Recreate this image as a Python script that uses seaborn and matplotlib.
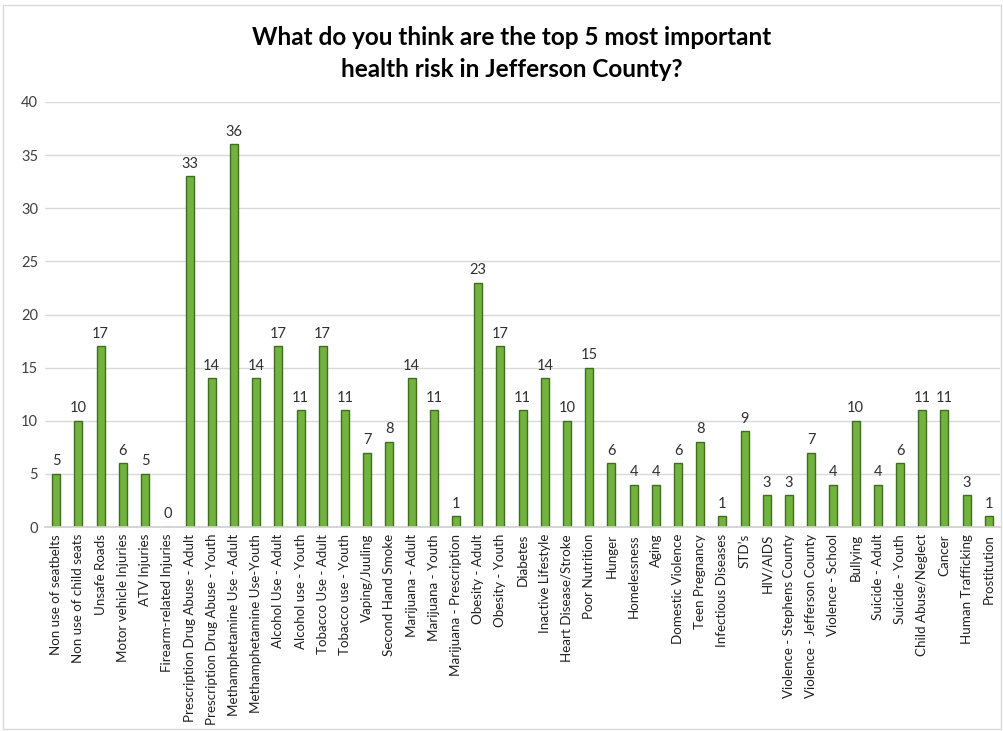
import matplotlib
matplotlib.use("Agg")
import matplotlib.pyplot as plt
import seaborn as sns
import pandas as pd

categories = [
    "Non use of seatbelts", "Non use of child seats", "Unsafe Roads", "Motor vehicle Injuries",
    "ATV Injuries", "Firearm-related Injuries", "Prescription Drug Abuse - Adult",
    "Prescription Drug Abuse - Youth", "Methamphetamine Use - Adult", "Methamphetamine Use-Youth",
    "Alcohol Use - Adult", "Alcohol use - Youth", "Tobacco Use - Adult", "Tobacco use - Youth",
    "Vaping/Juuling", "Second Hand Smoke", "Marijuana - Adult", "Marijuana - Youth",
    "Marijuana - Prescription", "Obesity - Adult", "Obesity - Youth", "Diabetes",
    "Inactive Lifestyle", "Heart Disease/Stroke", "Poor Nutrition", "Hunger", "Homelessness",
    "Aging", "Domestic Violence", "Teen Pregnancy", "Infectious Diseases", "STD\u2019s",
    "HIV/AIDS", "Violence - Stephens County", "Violence - Jefferson County", "Violence - School",
    "Bullying", "Suicide - Adult", "Suicide - Youth", "Child Abuse/Neglect", "Cancer",
    "Human Trafficking", "Prostitution",
]
values = [5, 10, 17, 6, 5, 0, 33, 14, 36, 14, 17, 11, 17, 11, 7, 8, 14, 11, 1, 23, 17, 11,
          14, 10, 15, 6, 4, 4, 6, 8, 1, 9, 3, 3, 7, 4, 10, 4, 6, 11, 11, 3, 1]
yticks = [0, 5, 10, 15, 20, 25, 30, 35, 40]
title = "What do you think are the top 5 most important\nhealth risk in Jefferson County?"

sns.set_theme(style="white")
plt.rcParams['font.family'] = ['Lato', 'DejaVu Sans']

df = pd.DataFrame({"cat": categories, "val": values})
fig = plt.figure(figsize=(10.04, 7.31), dpi=100)
ax = fig.add_axes([0.045, 0.279, 0.951, 0.5815])

sns.barplot(data=df, x="cat", y="val", color="#72b23e", width=0.36,
            edgecolor="#3f6e1c", linewidth=1.0, ax=ax, saturation=1)

ax.set_ylim(0, 40)
ax.set_xlim(-0.5, len(categories) - 0.5)
ax.set_yticks(yticks)
ax.set_yticklabels([str(t) for t in yticks], fontsize=10.5, color="#404040")
ax.yaxis.grid(True, color="#d9d9d9", linewidth=1)
ax.set_axisbelow(True)
for s in ["top", "right", "left"]:
    ax.spines[s].set_visible(False)
ax.spines["bottom"].set_color("#d0d0d0")
ax.set_xlabel("")
ax.set_ylabel("")
ax.tick_params(axis="both", length=0, pad=5)
ax.set_xticks(range(len(categories)))
ax.set_xticklabels(categories, rotation=90, fontsize=9.6, color="#202020")

for i, v in enumerate(values):
    ax.annotate(str(v), (i, v), xytext=(0, 4), textcoords="offset points",
                ha="center", va="bottom", fontsize=10.5, color="#303030")

fig.text(0.51, 0.927, title, ha="center", va="center", fontsize=17.5,
         fontweight="bold", color="#000000", linespacing=1.45)

fig.patches.append(plt.Rectangle((0.003, 0.003), 0.994, 0.99, transform=fig.transFigure,
                                 fill=False, edgecolor="#d9d9d9", linewidth=1))

fig.savefig("out.png", dpi=100)
